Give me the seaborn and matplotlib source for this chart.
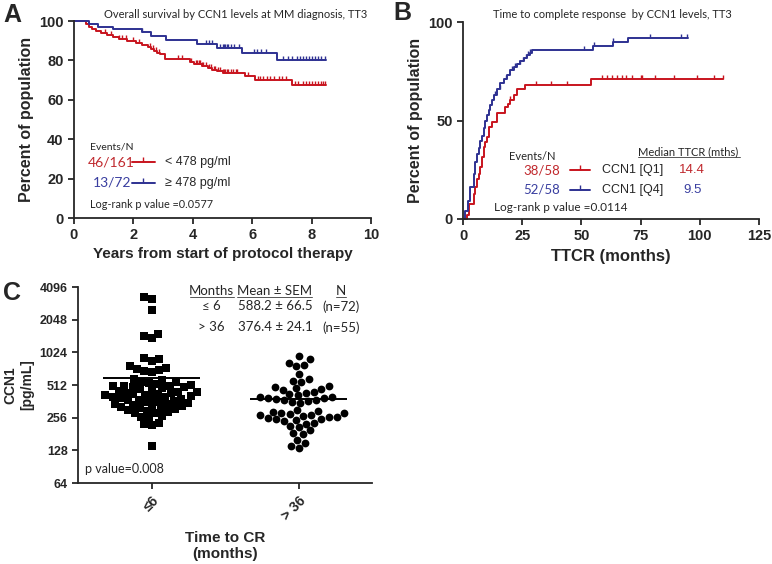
import numpy as np
import pandas as pd
import matplotlib
matplotlib.use("Agg")
import matplotlib.pyplot as plt
import seaborn as sns

# Panel A - overall survival (years vs % alive), step curves + censor times
os_low_t = [0, 0.42, 0.5, 0.6, 0.75, 0.9, 1.1, 1.3, 1.5, 1.8, 2.1, 2.3, 2.5, 2.6, 2.7, 2.8, 2.9,
            3.05, 3.9, 4.05, 4.3, 4.5, 4.65, 4.8, 5.0, 5.75, 6.1, 7.35, 8.5]
os_low_s = [100, 98.5, 97, 96, 95, 94, 93, 92, 91, 90, 89, 88, 87, 86, 85, 84, 83,
            80.5, 79, 78, 77, 76, 75, 74.5, 73.5, 72, 70, 67.5, 67.5]
os_low_cens = [1.05, 1.25, 1.5, 1.6, 1.75, 2.0, 2.2, 2.55, 2.65, 2.75, 2.85, 3.5, 3.65, 3.95,
               4.1, 4.15, 4.2, 4.25, 4.3, 4.35, 4.45, 4.55, 4.6, 4.7, 4.75, 4.85, 4.9, 5.0,
               5.05, 5.1, 5.15, 5.2, 5.3, 5.35, 5.45, 5.5, 5.85, 6.2, 6.25, 6.35, 6.5, 6.6,
               6.75, 6.9, 7.0, 7.15, 7.45, 7.55, 7.7, 7.8, 7.9, 8.0, 8.1, 8.2, 8.3, 8.4, 8.45]
os_high_t = [0, 0.5, 0.8, 1.3, 2.28, 2.6, 3.1, 4.15, 4.8, 5.65, 6.85, 8.5]
os_high_s = [100, 98.6, 97.2, 95.8, 94.2, 92.3, 90.5, 88.2, 86.2, 84, 80, 80]
os_high_cens = [2.3, 4.45, 4.55, 4.65, 4.9, 5.0, 5.05, 5.1, 5.15, 5.2, 5.3, 5.4, 5.55, 6.05,
                6.15, 6.3, 6.45, 7.05, 7.2, 7.35, 7.5, 7.6, 7.7, 7.8, 7.9, 8.0, 8.1, 8.2,
                8.3, 8.45]

# Panel B - time to complete response (months vs % responded)
cr_q1_t = [0, 1.8, 2.5, 4.5, 5.2, 5.9, 6.6, 7.3, 8.0, 8.7, 9.4, 10.1, 10.8, 12.2, 14.3,
           17.8, 19.0, 20.0, 21.4, 23.0, 26.3, 54.0, 110]
cr_q1_s = [0, 2, 7.8, 12.9, 16.3, 20.5, 23, 26.4, 31.5, 36.6, 39, 41.7, 46.8, 49.3, 53.6,
           57, 58.5, 60.3, 62.9, 65.8, 68, 71, 71]
cr_q1_cens = [20, 31, 37, 44, 58.5, 61, 63, 65, 67, 69, 71.5, 75, 75.5, 81, 89, 99, 106, 110]
cr_q4_t = [0, 1.0, 2.0, 2.8, 4.5, 5.2, 5.9, 6.6, 7.3, 8.0, 8.7, 9.5, 10.2, 10.9, 11.6, 12.3,
           13.0, 14.3, 15.7, 17.2, 18.6, 20.0, 21.4, 22.8, 24.2, 25.6, 27.0, 28.3, 29.1,
           54.8, 63.5, 69.5, 95]
cr_q4_s = [0, 4, 9, 16, 23, 29, 33, 36, 39.5, 42, 46, 50, 53, 55.5, 58, 60.5, 63, 66, 69,
           71, 73, 75.5, 77, 78.5, 80, 81.5, 83, 84.5, 86, 88, 90, 92, 92]
cr_q4_cens = [13.5, 15.5, 18, 20.5, 22, 24, 25.5, 26.5, 27.5, 28.5, 51, 55.5, 63.5, 79, 92, 94.5]

# Panel C - CCN1 (pg/mL) by time to CR
group_labels = ["≤6", "> 36"]
ccn1_le6 = [3300, 3200, 2500, 1500, 1450, 1400, 900, 880, 850, 760, 740, 720, 700, 690, 680,
            140, 220, 225, 230, 255, 260, 265,
            580, 565, 550, 540, 530, 520, 510, 505, 500, 490,
            500, 490, 480, 470, 460, 450, 445, 440, 435, 430,
            425, 420, 415, 410, 405, 400, 395, 390, 385, 380,
            375, 370, 365, 360, 355, 350, 345, 340, 335, 330,
            325, 320, 315, 310, 305, 300, 295, 290, 285, 280]
ccn1_gt36 = [950, 880, 820, 780, 760, 650, 580, 560, 540, 500, 490, 480, 470, 460,
             135, 140, 150, 160, 180, 185, 195, 210, 215, 225, 230, 240, 245,
             440, 430, 420, 410, 400, 395, 390, 385, 380, 375, 370, 365, 360, 350,
             300, 295, 290, 285, 280, 275, 270, 270, 265, 260, 260, 255, 250, 247]

RED = "#C8141E"
BLUE = "#2E3192"
RED_TXT = "#C0282D"
BLUE_TXT = "#3A3FA0"
NOTE_FONT = ["Lato", "DejaVu Sans"]

sns.set_style("ticks")
plt.rcParams["font.family"] = ["Liberation Sans", "DejaVu Sans"]
plt.rcParams.update({
    "axes.linewidth": 1.3,
    "xtick.major.width": 1.3,
    "ytick.major.width": 1.3,
    "xtick.major.size": 4,
    "ytick.major.size": 4,
    "xtick.labelsize": 10.5,
    "ytick.labelsize": 10.5,
})

W, H = 772, 564
fig = plt.figure(figsize=(W / 100, H / 100), dpi=100)


def box(l, t, r, b):
    return [l / W, 1 - b / H, (r - l) / W, (b - t) / H]


ax_a = fig.add_axes(box(74, 21, 371, 218))
ax_b = fig.add_axes(box(463, 22, 759, 219))
ax_c = fig.add_axes(box(78, 287, 372, 483))


def level_at(t, s, x):
    idx = np.searchsorted(t, x, side="right") - 1
    return np.asarray(s)[idx]


def km(ax, t, s, cens, color):
    sns.lineplot(x=t, y=s, ax=ax, color=color, lw=1.4, drawstyle="steps-post",
                 estimator=None, clip_on=False)
    sns.scatterplot(x=cens, y=level_at(t, s, cens), ax=ax, marker=2, s=10,
                    color=color, edgecolor=color, linewidth=1.0, clip_on=False)


def legend_line(ax, x0, x1, y, color):
    ax.plot([x0, x1], [y, y], color=color, lw=1.4)
    ax.plot([(x0 + x1) / 2], [y], marker=2, ms=3.5, color=color, mew=1.0)


def bold_ticks(ax):
    for lab in ax.get_xticklabels() + ax.get_yticklabels():
        lab.set_fontweight("bold")


# ---- A
km(ax_a, os_low_t, os_low_s, os_low_cens, RED)
km(ax_a, os_high_t, os_high_s, os_high_cens, BLUE)
ax_a.set_xlim(0, 10)
ax_a.set_ylim(0, 100)
ax_a.set_xticks(range(0, 11, 2))
ax_a.set_yticks(range(0, 101, 20))
ax_a.set_xlabel("Years from start of protocol therapy", fontsize=11, fontweight="bold", labelpad=3)
ax_a.set_ylabel("Percent of population", fontsize=11.5, fontweight="bold", labelpad=4)
ax_a.text(0.55, 36, "Events/N", fontsize=7.5, family=NOTE_FONT, va="center")
ax_a.text(0.45, 28.4, "46/161", fontsize=10, color=RED_TXT, family=NOTE_FONT, va="center")
legend_line(ax_a, 1.95, 2.73, 28.4, RED)
ax_a.text(3.06, 28.4, "< 478 pg/ml", fontsize=9, va="center")
ax_a.text(0.62, 17.8, "13/72", fontsize=10, color=BLUE_TXT, family=NOTE_FONT, va="center")
legend_line(ax_a, 1.95, 2.73, 17.8, BLUE)
ax_a.text(3.06, 17.8, "≥ 478 pg/ml", fontsize=9, va="center")
ax_a.text(0.55, 7.1, "Log-rank p value =0.0577", fontsize=7.8, family=NOTE_FONT, va="center")

# ---- B
km(ax_b, cr_q1_t, cr_q1_s, cr_q1_cens, RED)
km(ax_b, cr_q4_t, cr_q4_s, cr_q4_cens, BLUE)
ax_b.set_xlim(0, 125)
ax_b.set_ylim(0, 100)
ax_b.set_xticks(range(0, 126, 25))
ax_b.set_yticks([0, 50, 100])
ax_b.set_xlabel("TTCR (months)", fontsize=12, fontweight="bold", labelpad=4)
ax_b.set_ylabel("Percent of population", fontsize=11.5, fontweight="bold", labelpad=4)
ax_b.text(19.3, 31.9, "Events/N", fontsize=8, family=NOTE_FONT, va="center")
ax_b.text(74, 34, "Median TTCR (mths)", fontsize=8, family=NOTE_FONT, va="center")
ax_b.plot([74, 117], [31.6, 31.6], color="#555555", lw=0.7, clip_on=False)
ax_b.text(41, 24.8, "38/58", fontsize=9.5, color=RED_TXT, family=NOTE_FONT, va="center", ha="right")
legend_line(ax_b, 45.3, 53.7, 24.8, RED)
ax_b.text(58.6, 24.8, "CCN1 [Q1]", fontsize=9, va="center")
ax_b.text(91, 24.8, "14.4", fontsize=9.5, color=RED_TXT, va="center")
ax_b.text(41, 14.9, "52/58", fontsize=9.5, color=BLUE_TXT, family=NOTE_FONT, va="center", ha="right")
legend_line(ax_b, 45.3, 53.7, 14.9, BLUE)
ax_b.text(58.6, 14.9, "CCN1 [Q4]", fontsize=9, va="center")
ax_b.text(93, 14.9, "9.5", fontsize=9.5, color=BLUE_TXT, va="center")
ax_b.text(12.9, 5.8, "Log-rank p value =0.0114", fontsize=8.5, family=NOTE_FONT, va="center")

# ---- C
df_c = pd.DataFrame({
    "group": [group_labels[0]] * len(ccn1_le6) + [group_labels[1]] * len(ccn1_gt36),
    "ccn1": ccn1_le6 + ccn1_gt36,
})
sns.swarmplot(data=df_c[df_c["group"] == group_labels[0]], x="group", y="ccn1",
              order=group_labels, marker="s", color="black", size=5.2, log_scale=2, ax=ax_c)
sns.swarmplot(data=df_c[df_c["group"] == group_labels[1]], x="group", y="ccn1",
              order=group_labels, marker="o", color="black", size=5.6, log_scale=2, ax=ax_c)
for i, vals in enumerate([ccn1_le6, ccn1_gt36]):
    ax_c.hlines(np.mean(vals), i - 0.33, i + 0.33, color="black", lw=1.4, zorder=5)
c_ticks = [64, 128, 256, 512, 1024, 2048, 4096]
ax_c.set_ylim(64, 4096)
ax_c.set_xlim(-0.5, 1.5)
ax_c.set_yticks(c_ticks)
ax_c.set_yticklabels([str(v) for v in c_ticks], fontsize=9)
ax_c.yaxis.set_minor_locator(matplotlib.ticker.NullLocator())
ax_c.set_xticks([0, 1])
ax_c.set_xticklabels(group_labels, rotation=45, ha="right", rotation_mode="anchor", fontsize=10)
ax_c.set_xlabel("Time to CR\n(months)", fontsize=11, fontweight="bold", labelpad=6)
ax_c.set_ylabel("CCN1\n[pg/mL]", fontsize=10, fontweight="bold", labelpad=4)
ax_c.text(-0.45, 86, "p value=0.008", fontsize=9, family=NOTE_FONT, va="center")
for x, s in [(0.41, "Months"), (0.84, "Mean ± SEM"), (1.29, "N")]:
    ax_c.text(x, 3750, s, fontsize=9.5, family=NOTE_FONT, va="center", ha="center")
for x0, x1 in [(0.26, 0.56), (0.585, 1.095), (1.255, 1.325)]:
    ax_c.plot([x0, x1], [3300, 3300], color="#555555", lw=0.7, clip_on=False)
rows = [("≤ 6", "588.2 ± 66.5", "(n=72)", 2720), ("> 36", "376.4 ± 24.1", "(n=55)", 1737)]
for m, ms, n, y in rows:
    ax_c.text(0.41, y, m, fontsize=9.5, family=NOTE_FONT, va="center", ha="center")
    ax_c.text(0.84, y, ms, fontsize=9.5, family=NOTE_FONT, va="center", ha="center")
    ax_c.text(1.29, y, n, fontsize=9.5, family=NOTE_FONT, va="center", ha="center")

for ax in (ax_a, ax_b, ax_c):
    sns.despine(ax=ax)
    bold_ticks(ax)

fig.text(104 / W, 1 - 14 / H, "Overall survival by CCN1 levels at MM diagnosis, TT3",
         fontsize=8, family=NOTE_FONT, va="center")
fig.text(493 / W, 1 - 14 / H, "Time to complete response  by CCN1 levels, TT3",
         fontsize=8, family=NOTE_FONT, va="center")
for lab, x, y in [("A", 3, 3), ("B", 393, 1), ("C", 3, 281)]:
    fig.text(x / W, 1 - y / H, lab, fontsize=18, fontweight="bold", va="top")

fig.savefig("out.png", dpi=100)
